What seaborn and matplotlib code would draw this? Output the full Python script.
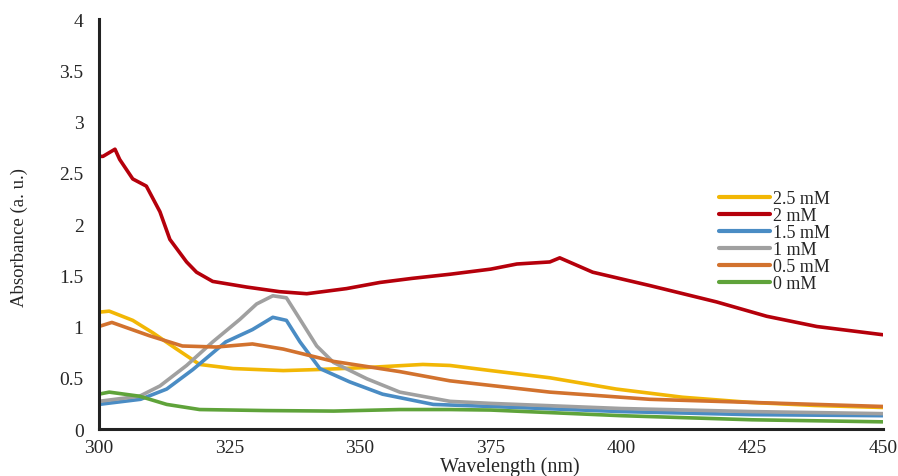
import numpy as np
import pandas as pd
import matplotlib
matplotlib.use("Agg")
import matplotlib.pyplot as plt
import seaborn as sns
from matplotlib.ticker import MultipleLocator

# ---- data ----
labels = ["2.5 mM", "2 mM", "1.5 mM", "1 mM", "0.5 mM", "0 mM"]
colors = ["#F2B705", "#B5000B", "#4A8CC4", "#A0A0A0", "#D2722E", "#5FA33A"]

wl_25 = [300, 302, 306.5, 310.3, 314.9, 319.3, 325.7, 335.3, 341.7, 351.3, 362, 367.2, 375, 386.3, 399, 411.7, 424.5, 437, 450]
ab_25 = [1.14, 1.15, 1.06, 0.94, 0.78, 0.63, 0.59, 0.57, 0.58, 0.60, 0.63, 0.62, 0.57, 0.50, 0.39, 0.31, 0.26, 0.23, 0.21]

wl_2 = [300, 300.8, 303.1, 304, 306.5, 309.1, 311.7, 313.6, 316.8, 318.7, 321.8, 328.3, 334.6, 339.8, 347.4, 353.8, 360, 367.2, 375, 380, 386.3, 388.2, 394.5, 405.4, 418.2, 427.8, 437.4, 450]
ab_2 = [2.66, 2.66, 2.73, 2.63, 2.44, 2.37, 2.12, 1.85, 1.63, 1.53, 1.44, 1.385, 1.34, 1.32, 1.37, 1.43, 1.47, 1.51, 1.56, 1.61, 1.63, 1.67, 1.53, 1.40, 1.24, 1.10, 1.00, 0.92]

wl_15 = [300, 308, 313, 318, 324.3, 329.4, 333.3, 335.9, 338.5, 342.3, 348, 354.3, 364, 375, 400, 425, 450]
ab_15 = [0.24, 0.29, 0.39, 0.58, 0.85, 0.97, 1.09, 1.06, 0.85, 0.59, 0.46, 0.34, 0.24, 0.22, 0.17, 0.14, 0.13]

wl_1 = [300, 307.8, 311.7, 316.8, 321.8, 327, 330.2, 333.3, 335.9, 338.5, 341.7, 344.9, 351.3, 357.6, 367.2, 375, 400, 425, 450]
ab_1 = [0.27, 0.32, 0.42, 0.62, 0.85, 1.07, 1.22, 1.30, 1.28, 1.07, 0.81, 0.65, 0.49, 0.36, 0.27, 0.25, 0.20, 0.17, 0.15]

wl_05 = [300, 302.5, 309.7, 316, 322.5, 329.4, 335.3, 344.9, 357.6, 367.2, 386.3, 405.4, 424.5, 450]
ab_05 = [1.0, 1.04, 0.91, 0.81, 0.80, 0.83, 0.78, 0.66, 0.56, 0.47, 0.36, 0.29, 0.26, 0.22]

wl_0 = [300, 302, 307.8, 313, 319.3, 332, 345, 357.6, 367.2, 375, 400, 425, 450]
ab_0 = [0.34, 0.36, 0.32, 0.24, 0.19, 0.18, 0.175, 0.19, 0.19, 0.185, 0.13, 0.09, 0.07]

x_ticks = [300, 325, 350, 375, 400, 425, 450]
y_ticks = [0, 0.5, 1, 1.5, 2, 2.5, 3, 3.5, 4]
y_ticklabels = ["0", "0.5", "1", "1.5", "2", "2.5", "3", "3.5", "4"]

series = [(wl_25, ab_25), (wl_2, ab_2), (wl_15, ab_15), (wl_1, ab_1), (wl_05, ab_05), (wl_0, ab_0)]
frames = []
for lab, (w, a) in zip(labels, series):
    frames.append(pd.DataFrame({"Wavelength": w, "Absorbance": a, "Conc": lab}))
df = pd.concat(frames, ignore_index=True)

sns.set_style("white")
plt.rcParams["font.family"] = ["Liberation Serif", "DejaVu Serif"]

fig = plt.figure(figsize=(8.98, 4.77), dpi=100)
ax = fig.add_axes([0.110, 0.0985, 0.873, 0.8595])

sns.lineplot(data=df, x="Wavelength", y="Absorbance", hue="Conc", hue_order=labels,
             palette=colors, sort=False, estimator=None, units="Conc", linewidth=2.6, ax=ax)

ax.set_xlim(300, 450)
ax.set_ylim(0, 4)
ax.set_xticks(x_ticks)
ax.set_xticklabels([str(t) for t in x_ticks], fontsize=14)
ax.set_yticks(y_ticks)
ax.set_yticklabels(y_ticklabels, fontsize=14)
ax.xaxis.set_minor_locator(MultipleLocator(5))
ax.yaxis.set_minor_locator(MultipleLocator(0.1))
ax.tick_params(axis="both", which="both", direction="out", length=5, width=1.8, color="#222222")
ax.tick_params(axis="y", which="major", pad=6)
ax.tick_params(axis="x", which="major", pad=2)
for s in ["top", "right"]:
    ax.spines[s].set_visible(False)
for s in ["left", "bottom"]:
    ax.spines[s].set_color("#222222")
    ax.spines[s].set_linewidth(2.2)

ax.set_xlabel("Wavelength (nm)", fontsize=14.5)
ax.xaxis.set_label_coords(0.524, -0.066)
ax.set_ylabel("Absorbance (a. u.)", fontsize=13.5)
ax.yaxis.set_label_coords(-0.09, 0.47)

leg = ax.legend(loc="upper left", bbox_to_anchor=(0.78, 0.605), frameon=False, fontsize=13,
                handlelength=2.8, labelspacing=0.0, handletextpad=0.2, borderpad=0)
for h in leg.get_lines():
    h.set_linewidth(3)

fig.savefig("out.png", dpi=100, facecolor="white")
